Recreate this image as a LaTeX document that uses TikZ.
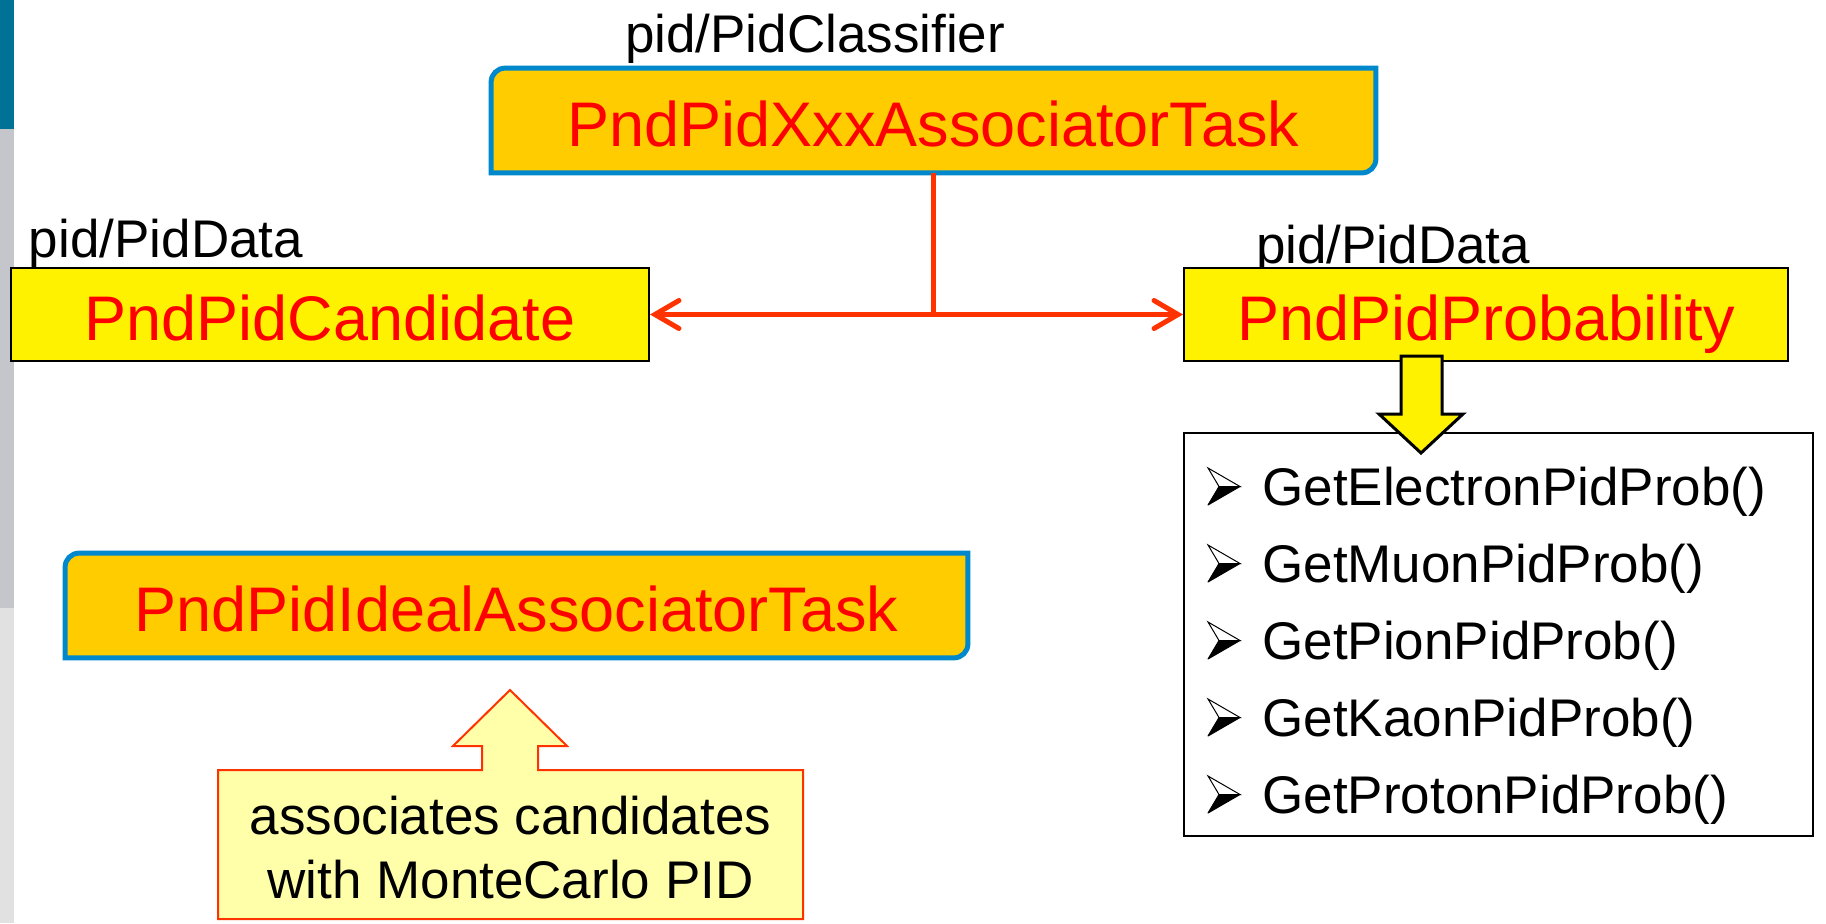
\documentclass[tikz,border=0pt]{standalone}
\usepackage{fontspec}
\setmainfont{Liberation Sans}
\usetikzlibrary{arrows.meta,backgrounds}
\definecolor{stripteal}{RGB}{0,114,150}
\definecolor{stripgray}{RGB}{197,198,204}
\definecolor{striplight}{RGB}{225,225,225}
\definecolor{taskfill}{RGB}{255,204,0}
\definecolor{taskline}{RGB}{0,136,204}
\definecolor{connred}{RGB}{255,51,0}
\definecolor{callfill}{RGB}{255,255,170}
\newcommand\taskoutline[1]{%
  \path[fill=taskfill,draw=taskline,line width=2.5pt]
    (#1.south west) -- ([yshift=-7pt]#1.north west)
    arc[start angle=180,end angle=90,radius=7pt] -- (#1.north east)
    -- ([yshift=7pt]#1.south east)
    arc[start angle=0,end angle=-90,radius=7pt] -- cycle;}
\begin{document}
\begin{tikzpicture}[x=0.5pt,y=0.5pt,
  bigtext/.style={font=\fontsize{31.5}{36}\selectfont,text=red,
    text height=25.5pt,text depth=0pt,inner sep=0pt},
  taskbox/.style={bigtext},
  databox/.style={bigtext,draw=black,line width=1pt,fill=yellow},
  pathlabel/.style={font=\fontsize{26.5}{30}\selectfont,anchor=base,inner sep=0pt},
  listitem/.style={font=\fontsize{26.5}{30}\selectfont,anchor=base west,inner sep=0pt},
  connector/.style={draw=connred,line width=2.5pt,
    arrows={Straight Barb[length=12pt,width=14pt,line cap=round]-Straight Barb[length=12pt,width=14pt,line cap=round]}},
  bullethead/.pic={
    \path[fill=white,draw=black,line width=0.5pt] (0,37) -- (32,18.5) -- (11,18.5) -- cycle;
    \path[fill=black,draw=black,line width=0.5pt,line join=round] (0,0) -- (32,18.5) -- (11,18.5) -- cycle;}
]
\useasboundingbox (0,0) rectangle (1826,-923);
% left strip
\fill[stripteal] (0,0) rectangle (14,-129);
\fill[stripgray] (0,-129) rectangle (14,-608);
\fill[striplight] (0,-608) rectangle (14,-923);

% task boxes
\node[taskbox,minimum width=442pt,minimum height=52pt] (xxx) at (933.5,-120.5) {PndPidXxxAssociatorTask};
\node[taskbox,minimum width=451pt,minimum height=52pt] (ideal) at (516.5,-605.5) {PndPidIdealAssociatorTask};
\begin{scope}[on background layer]
  \taskoutline{xxx}
  \taskoutline{ideal}
\end{scope}

% labels
\node[pathlabel] (lclass) at (815,-52) {pid/PidClassifier};
\node[pathlabel] (ldata1) at (166,-257) {pid/PidData};
\node[pathlabel] (ldata2) at (1393,-263) {pid/PidData};

% data boxes
\node[databox,minimum width=319pt,minimum height=46.5pt] (cand) at (330,-314.5) {PndPidCandidate};
\node[databox,minimum width=302pt,minimum height=46.5pt] (prob) at (1486,-314.5) {PndPidProbability};

% connectors
\draw[draw=connred,line width=2.5pt] (xxx.south) -- (xxx.south |- cand.east);
\draw[connector] (cand.east) -- (prob.west);

% list box
\node[draw=black,line width=1pt,fill=white,minimum width=314.5pt,minimum height=201.5pt,inner sep=0pt] (list) at (1498.5,-634.5) {};
\foreach \b/\t [count=\i] in {505/GetElectronPidProb(),582/GetMuonPidProb(),659/GetPionPidProb(),736/GetKaonPidProb(),813/GetProtonPidProb()}{
  \pic at (1208,-\b) {bullethead};
  \node[listitem] (item\i) at (1262,-\b) {\t};
}

% yellow down arrow
\draw[fill=yellow,draw=black,line width=1.5pt,line join=miter]
  (1401,-356) -- (1401,-414) -- (1379,-414) -- (1421,-453) -- (1463,-414) -- (1442,-414) -- (1442,-356) -- cycle;

% callout
\draw[fill=callfill,draw=connred,line width=1pt]
  (218,-770) -- (482,-770) -- (482,-746) -- (453,-746) -- (510,-690) -- (567,-746)
  -- (538,-746) -- (538,-770) -- (803,-770) -- (803,-919) -- (218,-919) -- cycle;
\node[font=\fontsize{26.5}{32}\selectfont,align=center,inner sep=0pt] (note) at (510.5,-848)
  {associates candidates\\with MonteCarlo PID};
\end{tikzpicture}
\end{document}
